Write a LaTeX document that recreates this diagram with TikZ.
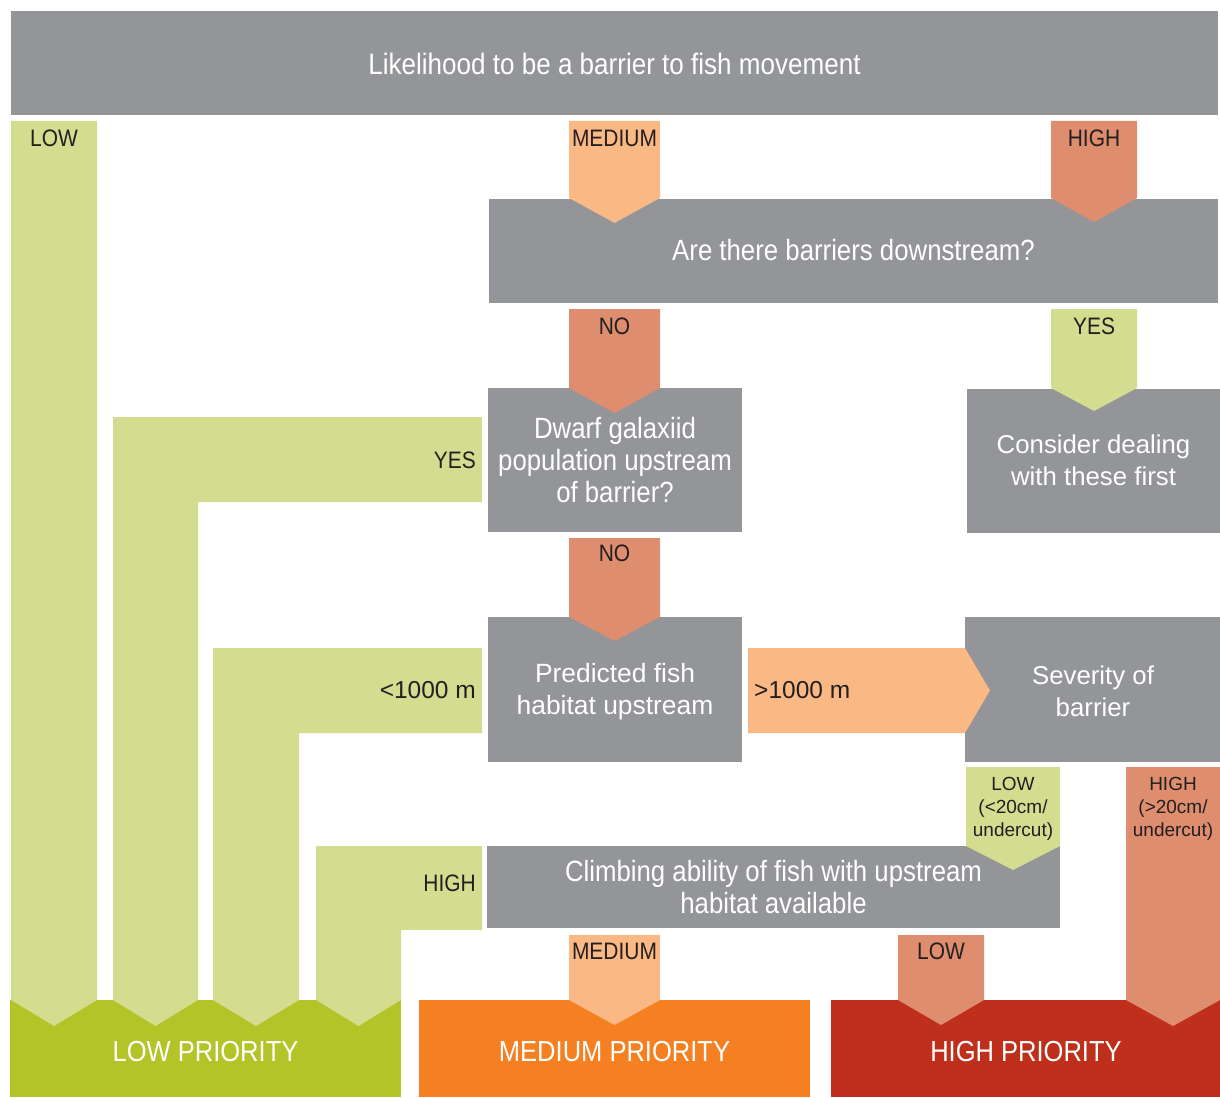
\documentclass[tikz,border=0pt]{standalone}
\usepackage{fontspec}
\setmainfont{Liberation Sans}
\newfontfamily\cnd[FakeStretch=0.88]{Liberation Sans}
\definecolor{boxgray}{HTML}{939598}
\definecolor{lgreen}{HTML}{D3DC8F}
\definecolor{lorange}{HTML}{F9B884}
\definecolor{salmon}{HTML}{DE8D6E}
\definecolor{pgreen}{HTML}{B2C427}
\definecolor{porange}{HTML}{F58021}
\definecolor{pred}{HTML}{BE301C}
\definecolor{darktxt}{HTML}{231F20}
\newcommand\dnarrow[6]{\fill[#1] (#2,#4) -- (#3,#4) -- (#3,#5) -- ({(#2+#3)/2},#6) -- (#2,#5) -- cycle;}
\begin{document}
\begin{tikzpicture}[x=1pt,y=-1pt,
  gbox/.style={fill=boxgray, text=white, inner sep=0pt, align=center, anchor=center},
  ctxt/.style={font=\cnd\fontsize{29.3}{32}\selectfont},
  rtxt/.style={font=\fontsize{25.8}{32}\selectfont},
  lab/.style={text=darktxt, inner sep=0pt, font=\cnd\fontsize{23.8}{28}\selectfont},
  mlab/.style={text=darktxt, inner sep=0pt, font=\fontsize{24.5}{28}\selectfont},
  slab/.style={text=darktxt, inner sep=0pt, align=center, font=\fontsize{19}{23}\selectfont},
  prio/.style={text=white, inner sep=0pt, font=\cnd\fontsize{29}{32}\selectfont},
  pbox/.style={inner sep=0pt, anchor=center}]
\useasboundingbox (0,0) rectangle (1220,1097);

% priority boxes
\node[pbox, fill=pgreen, minimum width=391pt, minimum height=97pt] (plow) at (205.5,1048.5) {};
\node[pbox, fill=porange, minimum width=391pt, minimum height=97pt] (pmed) at (614.5,1048.5) {};
\node[pbox, fill=pred, minimum width=389pt, minimum height=97pt] (phigh) at (1025.5,1048.5) {};

% gray boxes
\node[gbox, ctxt, font=\cnd\fontsize{29.6}{32}\selectfont, minimum width=1207pt, minimum height=104pt] (title) at (614.5,63.5) {Likelihood to be a barrier to fish movement};
\node[gbox, ctxt, minimum width=729pt, minimum height=104pt] (down) at (853.5,250.5) {Are there barriers downstream?};
\node[gbox, ctxt, minimum width=254pt, minimum height=144pt] (dwarf) at (615,460) {Dwarf galaxiid\\population upstream\\of barrier?};
\node[gbox, rtxt, minimum width=253pt, minimum height=144pt] (consider) at (1093.5,460.5) {Consider dealing\\with these first};
\node[gbox, rtxt, font=\fontsize{26.4}{32}\selectfont, minimum width=254pt, minimum height=145pt] (pred) at (615,689.5) {};
\node[text=white, align=center, inner sep=0pt, font=\fontsize{26.4}{32}\selectfont] (predtxt) at (615,692) {Predicted fish\\habitat upstream};
\node[gbox, rtxt, minimum width=255pt, minimum height=145pt] (sev) at (1092.5,689.5) {};
\node[text=white, align=center, inner sep=0pt, font=\fontsize{25.8}{32}\selectfont] (sevtxt) at (1093,691) {Severity of\\barrier};
\node[gbox, ctxt, minimum width=573pt, minimum height=82pt] (climb) at (773.5,887) {Climbing ability of fish with upstream\\habitat available};

% green L-shaped and straight flows to low priority
\fill[lgreen] (11,121) -- (97,121) -- (97,1000) -- (54,1026) -- (11,1000) -- cycle;
\fill[lgreen] (113,417) -- (482,417) -- (482,502) -- (198,502) -- (198,1000) -- (155.5,1026) -- (113,1000) -- cycle;
\fill[lgreen] (213,648) -- (482,648) -- (482,733) -- (299,733) -- (299,1000) -- (256,1026) -- (213,1000) -- cycle;
\fill[lgreen] (316,846) -- (482,846) -- (482,930) -- (401,930) -- (401,1000) -- (358.5,1026) -- (316,1000) -- cycle;

% down arrows
\dnarrow{lorange}{569}{660}{121}{198}{223}
\dnarrow{salmon}{1051}{1137}{121}{198}{222}
\dnarrow{salmon}{569}{660}{309}{388}{413}
\dnarrow{lgreen}{1051}{1137}{309}{388}{411}
\dnarrow{salmon}{569}{660}{538}{617}{641}
\dnarrow{lgreen}{966}{1060}{767}{846}{870}
\dnarrow{salmon}{1126}{1220}{767}{1000}{1026}
\dnarrow{lorange}{569}{660}{935}{1000}{1025}
\dnarrow{salmon}{898}{984}{935}{1000}{1025}

% right arrow
\fill[lorange] (748,648) -- (965,648) -- (990,690.5) -- (965,733) -- (748,733) -- cycle;

% labels
\node[lab] (lLow) at (54,138.5) {LOW};
\node[lab] (lMed) at (614.5,138.5) {MEDIUM};
\node[lab] (lHigh) at (1094,138.5) {HIGH};
\node[lab] (lNo) at (614.5,326.5) {NO};
\node[lab] (lYes) at (1094,326.5) {YES};
\node[lab] (lNo2) at (614.5,553.5) {NO};
\node[lab, anchor=east] (lYesL) at (476,460) {YES};
\node[mlab, anchor=east] (lLess) at (476,690.5) {<1000 m};
\node[mlab, anchor=west] (lMore) at (754,690.5) {>1000 m};
\node[slab] (sLow) at (1013,808.5) {LOW\\(<20cm/\\undercut)};
\node[slab] (sHigh) at (1173,808.5) {HIGH\\(>20cm/\\undercut)};
\node[lab, anchor=east] (lHighL) at (476,883.5) {HIGH};
\node[lab] (lMedB) at (614.5,951.5) {MEDIUM};
\node[lab] (lLowB) at (941,951.5) {LOW};

\node[prio] (tLow) at (205.5,1052) {LOW PRIORITY};
\node[prio] (tMed) at (614.5,1052) {MEDIUM PRIORITY};
\node[prio] (tHigh) at (1026,1052) {HIGH PRIORITY};
\end{tikzpicture}
\end{document}
